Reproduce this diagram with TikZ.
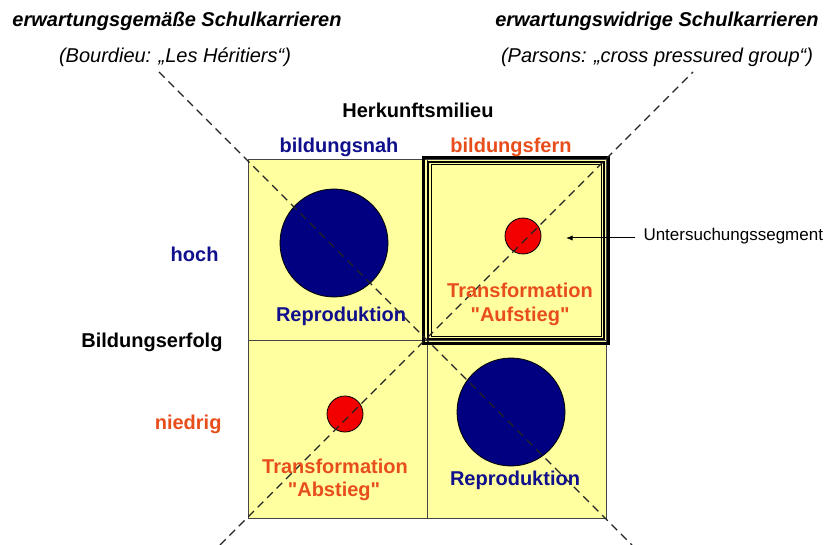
\documentclass[tikz,border=0pt]{standalone}
\usepackage{fontspec}
\setmainfont{Liberation Sans}[Ligatures=TeXOff]
\usetikzlibrary{arrows.meta}

\definecolor{navy}{RGB}{0,0,128}
\definecolor{lblblue}{RGB}{16,16,140}
\definecolor{lblred}{RGB}{232,78,28}
\definecolor{cellyellow}{RGB}{255,255,160}
\definecolor{dotred}{RGB}{242,0,0}

\tikzset{every picture/.style={line width=0.75pt}}
\tikzset{
  lbl/.style={inner sep=0.75pt, anchor=base, font=\fontsize{15}{18}\selectfont\bfseries},
  hdr/.style={inner sep=0.75pt, anchor=base, font=\fontsize{15}{18}\selectfont\bfseries\itshape},
  src/.style={inner sep=0.75pt, anchor=base, font=\fontsize{15}{18}\selectfont\itshape},
  cell/.style={fill=cellyellow, draw={rgb, 255:red, 70; green, 70; blue, 70}, line width=0.75pt},
  diag/.style={draw={rgb, 255:red, 35; green, 35; blue, 35}, line width=0.9pt, dash pattern=on 6pt off 4pt},
  bigdot/.style={fill=navy, draw=black, line width=0.6pt},
  smalldot/.style={fill=dotred, draw=black, line width=0.6pt},
}

\begin{document}
\begin{tikzpicture}[x=0.75pt,y=0.75pt,yscale=-1,xscale=1]
\useasboundingbox (0,0) rectangle (831,545);

%Shape: Rectangle (four cells)
\draw [cell] (248,160) rectangle (427,340) ;
\draw [cell] (427,160) rectangle (606,340) ;
\draw [cell] (248,340) rectangle (427,518) ;
\draw [cell] (427,340) rectangle (606,518) ;

%Shape: Rectangle (Untersuchungssegment, triple frame)
\draw [line width=2.2pt] (423.5,157.5) rectangle (608.5,343.5) ;
\draw [line width=1.1pt] (428,162) rectangle (604,339) ;
\draw [line width=0.75pt] (431,165) rectangle (601,336) ;

%Shape: Circle
\draw [bigdot] (334,243) circle [radius=54] ;
\draw [smalldot] (523,236) circle [radius=18] ;
\draw [smalldot] (345,414) circle [radius=18] ;
\draw [bigdot] (511,412) circle [radius=54] ;

%Straight Lines (diagonals)
\draw [diag] (159,72) -- (632,545) ;
\draw [diag] (220,545) -- (693,72) ;

% Text Node
\node [hdr] (hdrL) at (177,27) {erwartungsgemäße Schulkarrieren};
% Text Node
\node [src] (srcL) at (175,63) {(Bourdieu: „Les Héritiers“)};
% Text Node
\node [hdr] (hdrR) at (657,27) {erwartungswidrige Schulkarrieren};
% Text Node
\node [src] (srcR) at (657,63) {(Parsons: „cross pressured group“)};
% Text Node
\node [lbl] (herk) at (418,118) {Herkunftsmilieu};
% Text Node
\node [lbl, text=lblblue] (nah) at (339,153) {bildungsnah};
% Text Node
\node [lbl, text=lblred] (fern) at (511,153) {bildungsfern};
% Text Node
\node [lbl, anchor=base east, text=lblblue] (hoch) at (220,262) {hoch};
% Text Node
\node [lbl, anchor=base east] (erfolg) at (224,347) {Bildungserfolg};
% Text Node
\node [lbl, anchor=base east, text=lblred] (niedrig) at (223,429) {niedrig};
% Text Node
\node [lbl, text=lblblue] (repA) at (341,321) {Reproduktion};
% Text Node
\node [lbl, text=lblred] (trA) at (520,297) {Transformation};
% Text Node
\node [lbl, text=lblred] (aufst) at (520,321) {"Aufstieg"};
% Text Node
\node [lbl, text=lblred] (trB) at (335,473) {Transformation};
% Text Node
\node [lbl, text=lblred] (abst) at (334,496) {"Abstieg"};
% Text Node
\node [lbl, text=lblblue] (repB) at (515,485) {Reproduktion};
% Text Node
\node [inner sep=0.75pt, anchor=west, font=\fontsize{12.75}{15}\selectfont] (seg) at (642,236) {Untersuchungssegment};

%Straight Lines (arrow to segment)
\coordinate (segtip) at (566,238) ;
\draw [-{Latex[length=5pt,width=4pt]}, shorten <=5pt] (seg.west |- segtip) -- (segtip) ;

\end{tikzpicture}
\end{document}
